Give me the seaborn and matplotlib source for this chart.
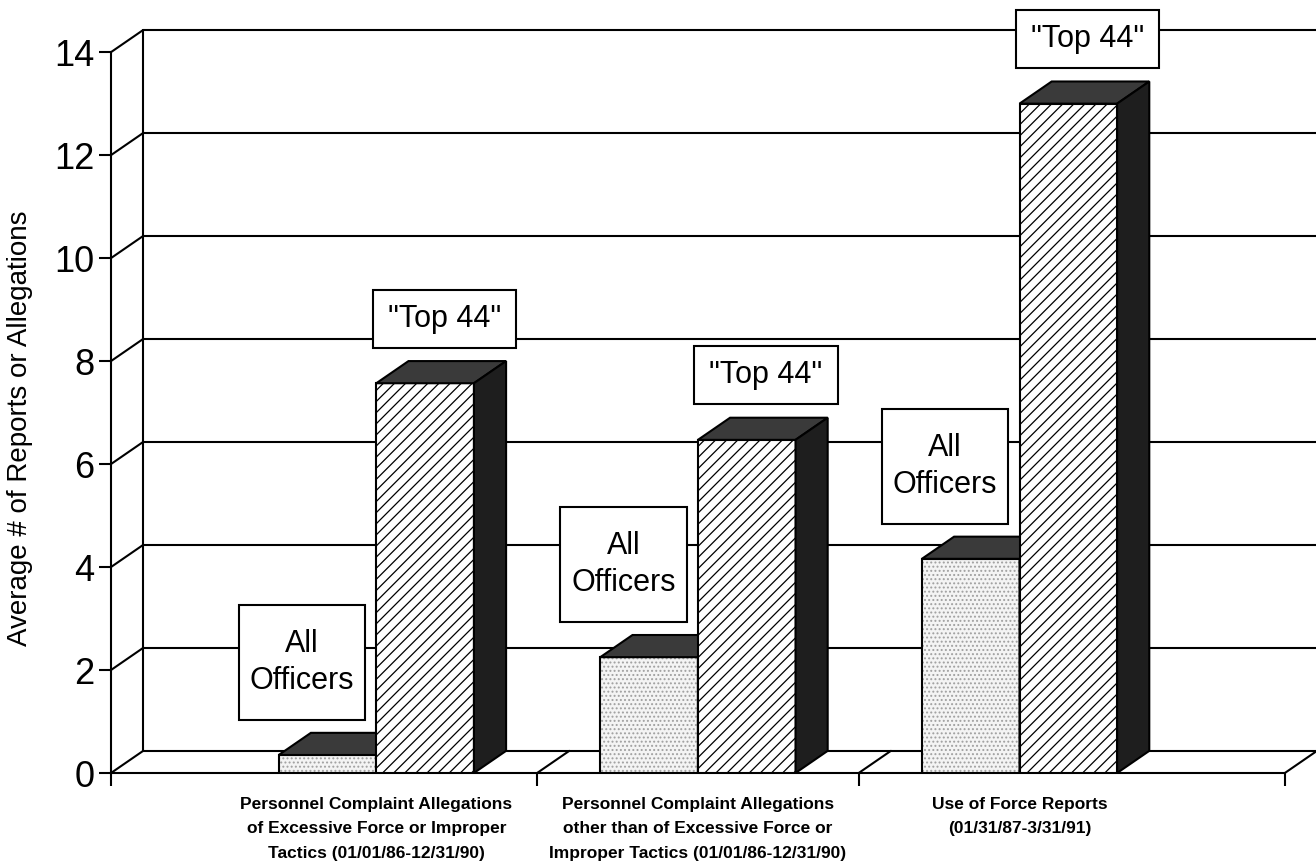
import numpy as np
import pandas as pd
import seaborn as sns
import matplotlib.pyplot as plt
from matplotlib.patches import Polygon, Rectangle
from matplotlib.transforms import IdentityTransform

# data
periods = ["Personnel Complaint Allegations\nof Excessive Force or Improper\nTactics (01/01/86-12/31/90)",
           "Personnel Complaint Allegations\nother than of Excessive Force or\nImproper Tactics (01/01/86-12/31/90)",
           "Use of Force Reports\n(01/31/87-3/31/91)"]
groups = ["All\nOfficers", "\"Top 44\""]
all_officers = [0.35, 2.25, 4.16]
top44 = [7.57, 6.47, 13.0]
yticks = [0, 2, 4, 6, 8, 10, 12, 14]
ylabel = "Average # of Reports or Allegations"

df = pd.DataFrame({"period": periods * 2,
                   "group": [groups[0]] * 3 + [groups[1]] * 3,
                   "value": all_officers + top44})

sns.set_style("white")
plt.rcParams['font.family'] = ['Liberation Sans', 'DejaVu Sans']
plt.rcParams['hatch.linewidth'] = 0.9
for k in ["text.color", "axes.labelcolor", "xtick.color", "ytick.color", "axes.edgecolor"]:
    plt.rcParams[k] = "black"

fig = plt.figure(figsize=(13.16, 8.63), dpi=100, facecolor='white')
ax = fig.add_axes([111 / 1316, 90 / 863, 1206 / 1316, 743 / 863])

sns.barplot(data=df, x="period", y="value", hue="group", hue_order=groups,
            width=0.607, palette=["#f4f4f4", "white"], edgecolor="black",
            linewidth=1.5, legend=False, ax=ax, zorder=5)

# depth of the fake 3d look (in data units)
dx, dy = 0.1, 0.43
xl, xr = -0.825, 2.825
lw = 1.5

# back wall + floor
for t in yticks:
    ax.plot([xl + dx, xr + dx], [t + dy, t + dy], color="black", lw=lw, zorder=1, clip_on=False)
    ax.plot([xl, xl + dx], [t, t + dy], color="black", lw=lw, zorder=1, clip_on=False)
ax.plot([xl + dx, xl + dx], [dy, yticks[-1] + dy], color="black", lw=lw, zorder=1, clip_on=False)
ax.plot([xl, xr], [0, 0], color="black", lw=lw, zorder=1, clip_on=False)
for b in [0.5, 1.5, xr]:
    ax.plot([b, b + dx], [0, dy], color="black", lw=lw, zorder=1, clip_on=False)

bars = sorted(ax.patches, key=lambda p: p.get_x())
labels = []
for i, p in enumerate(bars):
    x0, w, h = p.get_x(), p.get_width(), p.get_height()
    z = 5 if i % 2 == 0 else 6
    p.set_zorder(z)
    if i % 2 == 0:
        p.set_hatch("....")
        p.set_edgecolor("#a0a0a0")
        p.set_linewidth(0)
        ax.add_patch(Rectangle((x0, 0), w, h, fill=False, ec="black", lw=lw, zorder=z))
    else:
        p.set_hatch("///")
    top = [(x0, h), (x0 + w, h), (x0 + w + dx, h + dy), (x0 + dx, h + dy)]
    side = [(x0 + w, 0), (x0 + w + dx, dy), (x0 + w + dx, h + dy), (x0 + w, h)]
    ax.add_patch(Polygon(top, closed=True, fc="#3a3a3a", ec="black", lw=lw, zorder=z, clip_on=False))
    ax.add_patch(Polygon(side, closed=True, fc="#1e1e1e", ec="black", lw=lw, zorder=z, clip_on=False))
    cx = x0 + w / 2
    if i % 2 == 0:
        t = ax.text(cx - 0.08, h + 1.8, groups[0], ha="center", va="center", fontsize=22,
                    linespacing=1.3, zorder=9)
        labels.append((t, 11, 24))
    else:
        t = ax.text(cx + 0.06, h + 1.25, groups[1], ha="center", va="center", fontsize=22,
                    zorder=9)
        labels.append((t, 15, 14))

ax.set_xlim(xl, xr + dx)
ax.set_ylim(0, yticks[-1] + dy)
for s in ["top", "right", "bottom"]:
    ax.spines[s].set_visible(False)
ax.spines["left"].set_bounds(0, yticks[-1])
ax.spines["left"].set_linewidth(lw)
ax.spines["left"].set_zorder(2)

ax.set_yticks(yticks)
ax.set_yticklabels([str(v) for v in yticks])
ax.tick_params(axis="y", which="major", left=True, length=8.6, width=lw, pad=3.5, labelsize=26)

ax.set_xticks([xl, 0.5, 1.5, xr])
ax.set_xticklabels(["", "", "", ""])
ax.set_xticks([0, 1, 2], minor=True)
ax.set_xticklabels(periods, minor=True, fontsize=12.5, fontweight="bold")
ax.tick_params(axis="x", which="major", bottom=True, length=9, width=lw, direction="out")
ax.tick_params(axis="x", which="minor", bottom=False, length=0, pad=17)
for lbl in ax.get_xticklabels(minor=True):
    lbl.set_linespacing(1.8)
ax.set_xlabel("")
ax.set_ylabel("")

fig.text(20 / 1316, 1 - 428 / 863, ylabel, rotation=90, ha="center", va="center", fontsize=20)

# white label boxes around the "All Officers" / "Top 44" texts
fig.canvas.draw()
for t, px, py in labels:
    bb = t.get_window_extent()
    ax.add_patch(Rectangle((bb.x0 - px, bb.y0 - py), bb.width + 2 * px, bb.height + 2 * py,
                           transform=IdentityTransform(), fc="white", ec="black", lw=lw,
                           zorder=8, clip_on=False))

fig.savefig("out.png", dpi=100, facecolor="white")
